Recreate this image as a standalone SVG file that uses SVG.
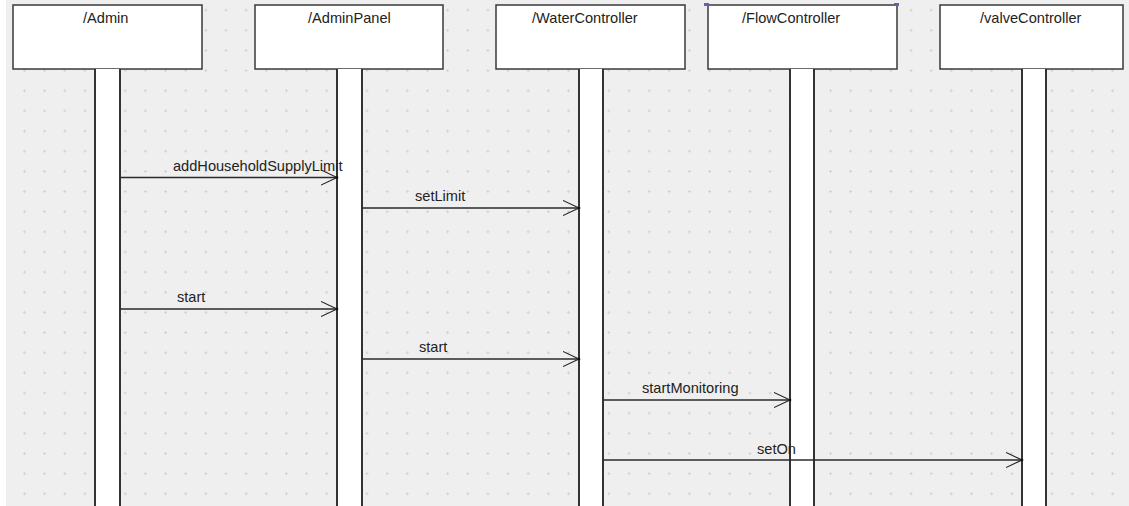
<svg xmlns="http://www.w3.org/2000/svg" width="1129" height="506" viewBox="0 0 1129 506">
  <defs>
    <!-- faint cross-shaped grid dots of the editor canvas -->
    <pattern id="grid" x="2.85" y="8.7" width="20.15" height="20.15" patternUnits="userSpaceOnUse">
      <rect x="0" y="1" width="3" height="1" fill="#d2d2d2"/>
      <rect x="1" y="0" width="1" height="3" fill="#d2d2d2"/>
    </pattern>
    <!-- open arrowhead for synchronous messages -->
    <marker id="open" markerWidth="18" markerHeight="18" refX="16" refY="8" orient="auto" markerUnits="userSpaceOnUse">
      <path d="M0,0.5 L16,8 L0,15.5" fill="none" stroke="#222" stroke-width="1.1"/>
      <circle cx="16" cy="8" r="1.3" fill="#111"/>
    </marker>
  </defs>
  <style>
    .head { fill: #ffffff; stroke: #3a3a3a; stroke-width: 1.5; }
    .bar { fill: #ffffff; stroke: none; }
    .barEdge { stroke: #333333; stroke-width: 2; }
    .title { font-family: "Liberation Sans", Arial, sans-serif; font-size: 14.6px; fill: #222222; }
    .msg { stroke: #2a2a2a; stroke-width: 1.3; fill: none; marker-end: url(#open); }
    .label { font-family: "Liberation Sans", Arial, sans-serif; font-size: 14.6px; fill: #222222; }
  </style>

  <!-- canvas -->
  <rect x="0" y="0" width="1129" height="506" fill="#ffffff"/>
  <rect x="6" y="0" width="1123" height="506" fill="#efefef"/>
  <rect x="6" y="0" width="1123" height="506" fill="url(#grid)"/>

  <!-- lifelines -->
  <g id="admin">
    <rect class="head" x="13" y="5" width="189" height="64"/>
    <text class="title" x="83" y="23">/Admin</text>
    <rect class="bar" x="95" y="69" width="25" height="437"/>
    <line class="barEdge" x1="95" y1="69" x2="95" y2="506"/>
    <line class="barEdge" x1="120" y1="69" x2="120" y2="506"/>
  </g>
  <g id="adminPanel">
    <rect class="head" x="255" y="5" width="188" height="64"/>
    <text class="title" x="308" y="23">/AdminPanel</text>
    <rect class="bar" x="337" y="69" width="25" height="437"/>
    <line class="barEdge" x1="337" y1="69" x2="337" y2="506"/>
    <line class="barEdge" x1="362" y1="69" x2="362" y2="506"/>
  </g>
  <g id="waterController">
    <rect class="head" x="496" y="5" width="189" height="64"/>
    <text class="title" x="532" y="23">/WaterController</text>
    <rect class="bar" x="579" y="69" width="24" height="437"/>
    <line class="barEdge" x1="579" y1="69" x2="579" y2="506"/>
    <line class="barEdge" x1="603" y1="69" x2="603" y2="506"/>
  </g>
  <g id="flowController">
    <rect class="head" x="708" y="5" width="189" height="64"/>
    <text class="title" x="742" y="23">/FlowController</text>
    <rect class="bar" x="790" y="69" width="24" height="437"/>
    <line class="barEdge" x1="790" y1="69" x2="790" y2="506"/>
    <line class="barEdge" x1="814" y1="69" x2="814" y2="506"/>
    <!-- selection handles -->
    <rect x="704" y="3" width="5" height="3" fill="#6a5fa8"/>
    <rect x="894" y="3" width="5" height="3" fill="#6a5fa8"/>
  </g>
  <g id="valveController">
    <rect class="head" x="940" y="5" width="183" height="64"/>
    <text class="title" x="980" y="23">/valveController</text>
    <rect class="bar" x="1022" y="69" width="24" height="437"/>
    <line class="barEdge" x1="1022" y1="69" x2="1022" y2="506"/>
    <line class="barEdge" x1="1046" y1="69" x2="1046" y2="506"/>
  </g>

  <!-- messages -->
  <g id="connectors">
    <line class="msg" x1="120" y1="177.5" x2="337" y2="177.5"/>
    <text class="label" x="173" y="171">addHouseholdSupplyLimit</text>

    <line class="msg" x1="362" y1="208" x2="579" y2="208"/>
    <text class="label" x="415" y="201">setLimit</text>

    <line class="msg" x1="120" y1="309" x2="337" y2="309"/>
    <text class="label" x="177" y="302">start</text>

    <line class="msg" x1="362" y1="359" x2="579" y2="359"/>
    <text class="label" x="419" y="352">start</text>

    <line class="msg" x1="603" y1="400" x2="790" y2="400"/>
    <text class="label" x="642" y="393">startMonitoring</text>

    <line class="msg" x1="603" y1="460" x2="1022" y2="460"/>
    <text class="label" x="757" y="454">setOn</text>
  </g>
</svg>
